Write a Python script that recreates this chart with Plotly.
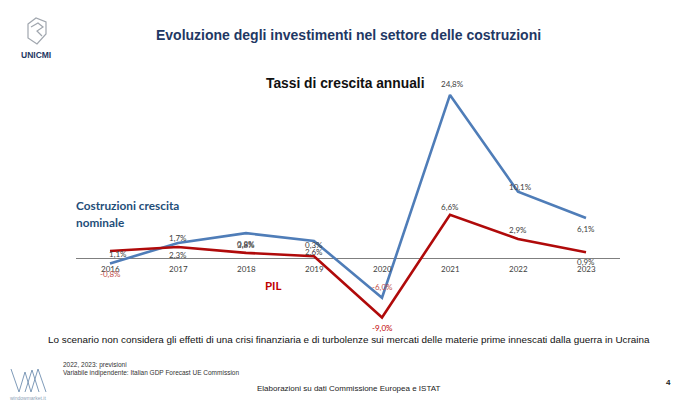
import plotly.graph_objects as go

years = [2016, 2017, 2018, 2019, 2020, 2021, 2022, 2023]
costruzioni = [-0.8, 2.3, 3.8, 2.6, -6.0, 24.8, 10.1, 6.1]
pil = [1.1, 1.7, 0.8, 0.3, -9.0, 6.6, 2.9, 0.9]

cost_labels = ["-0,8%", "2,3%", "3,8%", "2,6%", "-6,0%", "24,8%", "10,1%", "6,1%"]
pil_labels = ["1,1%", "1,7%", "0,8%", "0,3%", "-9,0%", "6,6%", "2,9%", "0,9%"]
year_labels = [str(y) for y in years]

# label styling (pixel offsets / colours), not data
cost_shift = [-11, -12, -12, -11, 11, 11, 5, -11]
cost_xshift = [0, 0, 0, 0, 0, 2, 2, 0]
cost_col = ["#C0504D", "#404040", "#404040", "#404040", "#C0504D", "#404040", "#404040", "#404040"]
pil_shift = [-3, 9, 9, 11, -11, 8, 9, -10]
pil_xshift = [8, 0, 0, 0, 0, 0, 0, 0]
pil_col = ["#404040", "#404040", "#404040", "#404040", "#C00000", "#404040", "#404040", "#404040"]

BLUE = "#4F7DB8"
RED = "#B00A0A"

# page body has an 8px margin: figure is drawn 8px in from the top-left
OFF = 8
W, H = 700 - OFF, 407 - OFF
ML, MR, MT, MB = 76 - OFF, 80, 87 - OFF, 83
pw, ph = W - ML - MR, H - MT - MB


def px(x):
    return (x - OFF - ML) / pw


def py(y):
    return 1 - (y - OFF - MT) / ph


fig = go.Figure()
fig.add_trace(go.Scatter(x=years, y=costruzioni, mode="lines",
                         line=dict(color=BLUE, width=2.6), hoverinfo="skip"))
fig.add_trace(go.Scatter(x=years, y=pil, mode="lines",
                         line=dict(color=RED, width=2.6), hoverinfo="skip"))

anns = []
for x, t in zip(years, year_labels):
    anns.append(dict(x=x, y=0, text=t, showarrow=False, yshift=-11,
                     font=dict(family="Lato", size=8, color="#404040")))
for x, v, t, s, xs, c in zip(years, costruzioni, cost_labels, cost_shift, cost_xshift, cost_col):
    anns.append(dict(x=x, y=v, text=t, showarrow=False, yshift=s, xshift=xs,
                     font=dict(family="Lato", size=8, color=c)))
for x, v, t, s, xs, c in zip(years, pil, pil_labels, pil_shift, pil_xshift, pil_col):
    anns.append(dict(x=x, y=v, text=t, showarrow=False, yshift=s, xshift=xs,
                     font=dict(family="Lato", size=8, color=c)))


def ptext(x, y, text, size, color, xanchor="center", bold=False, family="Liberation Sans"):
    if bold:
        text = "<b>" + text + "</b>"
    anns.append(dict(xref="paper", yref="paper", x=px(x), y=py(y), text=text, showarrow=False,
                     xanchor=xanchor, yanchor="middle",
                     font=dict(family=family, size=size, color=color)))


ptext(348, 35, "Evoluzione degli investimenti nel settore delle costruzioni", 14, "#1F3864", bold=True)
ptext(345, 83, "Tassi di crescita annuali", 13.8, "#111111", bold=True)
ptext(74, 205, "Costruzioni crescita", 11.8, "#1F4E79", xanchor="left", bold=True, family="Lato")
ptext(74, 222, "nominale", 11.8, "#1F4E79", xanchor="left", bold=True, family="Lato")
ptext(273, 285, "PIL", 11.5, "#C00000", bold=True, family="Lato")
ptext(349, 339, "Lo scenario non considera gli effetti di una crisi finanziaria e di turbolenze sui mercati delle materie prime innescati dalla guerra in Ucraina", 9.9, "#111111")
ptext(61, 365, "2022, 2023: previsioni", 6.5, "#333333", xanchor="left")
ptext(61, 373, "Variabile indipendente: Italian GDP Forecast UE Commission", 6.5, "#333333", xanchor="left")
ptext(348, 388, "Elaborazioni su dati Commissione Europea e ISTAT", 8, "#222222")
ptext(668, 382, "<b>4</b>", 8, "#222222")
ptext(36, 55, "UNICMI", 8.5, "#1F3864", bold=True)
ptext(28, 398, "windowmarket.it", 5, "#8FA3B8")


def path(pts, close=False):
    s = "M " + " L ".join("{} {}".format(px(a), py(b)) for a, b in pts)
    return s + (" Z" if close else "")


GREY = "#A0A6AE"
shapes = [
    # UNICMI logo outline
    dict(type="path", xref="paper", yref="paper",
         path=path([(28, 24), (36, 18), (46, 22), (46, 34), (37, 44), (28, 38)], True),
         line=dict(color=GREY, width=1.2)),
    dict(type="path", xref="paper", yref="paper",
         path=path([(31, 27), (38, 23), (43, 27), (37, 31), (42, 36)]),
         line=dict(color=GREY, width=1.2)),
    # windowmarket logo
    dict(type="path", xref="paper", yref="paper",
         path=path([(11, 369), (19, 392), (25, 372), (31, 392), (38, 369), (46, 392)]),
         line=dict(color="#6F8FB0", width=0.9)),
    dict(type="path", xref="paper", yref="paper",
         path=path([(25, 392), (32, 370), (39, 392)]),
         line=dict(color="#6F8FB0", width=0.9)),
]

fig.update_layout(
    width=W, height=H, margin=dict(l=ML, r=MR, t=MT, b=MB),
    paper_bgcolor="white", plot_bgcolor="white", showlegend=False,
    annotations=anns, shapes=shapes,
    xaxis=dict(range=[2015.5, 2023.5], showgrid=False, zeroline=False,
               showticklabels=False, ticks="", fixedrange=True),
    yaxis=dict(range=[-10, 26], showgrid=False, zeroline=True, zerolinecolor="#7F7F7F",
               zerolinewidth=1, showticklabels=False, ticks="", fixedrange=True),
)

fig.write_html("out.html")
